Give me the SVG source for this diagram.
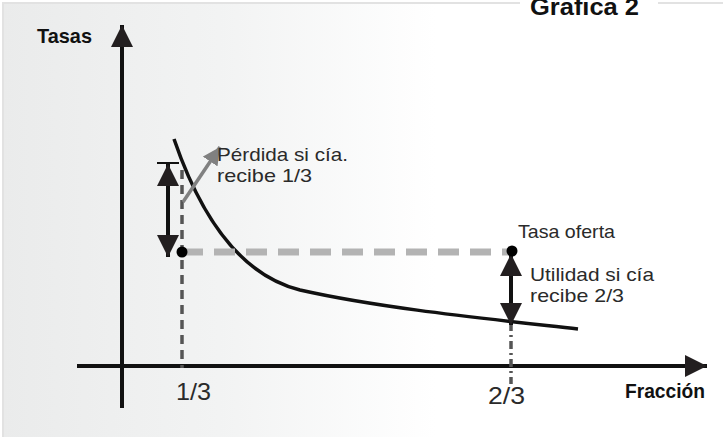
<svg xmlns="http://www.w3.org/2000/svg" width="723" height="439" viewBox="0 0 723 439">
<defs>
<linearGradient id="bg" x1="0" y1="0" x2="1" y2="0">
<stop offset="0" stop-color="#eaebeb"/>
<stop offset="0.3" stop-color="#f2f3f3"/>
<stop offset="0.6" stop-color="#ffffff"/>
</linearGradient>
<marker id="ahB" viewBox="0 0 10 10" refX="10" refY="5" markerWidth="5.5" markerHeight="5.5" orient="auto" markerUnits="strokeWidth">
<path d="M0,0 L10,5 L0,10 Z" fill="#231f20"/>
</marker>
<marker id="ahG" viewBox="0 0 10 10" refX="10" refY="5" markerWidth="5" markerHeight="5" orient="auto" markerUnits="strokeWidth">
<path d="M0,0 L10,5 L0,10 Z" fill="#808080"/>
</marker>
</defs>
<style>
.lbl{font-family:"Liberation Sans",Arial,sans-serif;font-size:19px;fill:#2a2a2a}
.bold{font-family:"Liberation Sans",Arial,sans-serif;font-weight:bold;fill:#111}
.frac{font-family:"Liberation Sans",Arial,sans-serif;font-size:24px;fill:#2a2a2a}
.axis{stroke:#111;stroke-width:4;fill:none}
.dbl{stroke:#111;stroke-width:4;fill:none}
</style>
<rect x="3" y="3" width="721" height="434" fill="url(#bg)"/>
<path d="M3,437 L3,3 L520,3 M658,3 L723,3" fill="none" stroke="#e2e2e2" stroke-width="2"/>
<text class="bold" x="530" y="15" font-size="23" textLength="109" lengthAdjust="spacingAndGlyphs">Grafica 2</text>

<g id="connectors">
<line class="axis" x1="122" y1="408" x2="122" y2="25" marker-end="url(#ahB)"/>
<line class="axis" x1="77" y1="366" x2="707" y2="366" marker-end="url(#ahB)"/>
<path d="M174,139 C200,215 240,275 300,290 C380,308 480,318 578,329" fill="none" stroke="#111" stroke-width="3.5"/>
<line x1="182" y1="170" x2="182" y2="368" stroke="#555" stroke-width="3.5" stroke-dasharray="9 6"/>
<line x1="182" y1="252" x2="511" y2="252" stroke="#b3b3b3" stroke-width="7" stroke-dasharray="21 11"/>
<line x1="511" y1="323" x2="511" y2="384" stroke="#555" stroke-width="3.5" stroke-dasharray="8 4 2 4"/>
<line x1="157" y1="163" x2="179" y2="163" stroke="#111" stroke-width="2"/>
<line class="dbl" x1="168" y1="210" x2="168" y2="164" marker-end="url(#ahB)"/>
<line class="dbl" x1="168" y1="210" x2="168" y2="257" marker-end="url(#ahB)"/>
<line class="dbl" x1="511" y1="290" x2="511" y2="254" marker-end="url(#ahB)"/>
<line class="dbl" x1="511" y1="290" x2="511" y2="325" marker-end="url(#ahB)"/>
<line x1="183" y1="202" x2="220" y2="147" stroke="#808080" stroke-width="3.5" marker-end="url(#ahG)"/>
</g>

<g id="dot-1-3"><circle cx="182" cy="252" r="5.5" fill="#000"/></g>
<g id="dot-oferta"><circle cx="512" cy="251" r="5.5" fill="#000"/></g>

<g id="label-tasas"><text class="bold" x="37" y="43" font-size="21" textLength="55" lengthAdjust="spacingAndGlyphs">Tasas</text></g>
<g id="label-fraccion"><text class="bold" x="625" y="398" font-size="20" textLength="80" lengthAdjust="spacingAndGlyphs">Fracción</text></g>
<g id="label-perdida">
<text class="lbl" x="217" y="161" textLength="131" lengthAdjust="spacingAndGlyphs">Pérdida si cía.</text>
<text class="lbl" x="217" y="182" textLength="95" lengthAdjust="spacingAndGlyphs">recibe 1/3</text>
</g>
<g id="label-oferta"><text class="lbl" x="518" y="238" textLength="97" lengthAdjust="spacingAndGlyphs">Tasa oferta</text></g>
<g id="label-utilidad">
<text class="lbl" x="530" y="281" textLength="124" lengthAdjust="spacingAndGlyphs">Utilidad si cía</text>
<text class="lbl" x="530" y="302" textLength="94" lengthAdjust="spacingAndGlyphs">recibe 2/3</text>
</g>
<g id="tick-1-3"><text class="frac" x="176" y="400" textLength="35" lengthAdjust="spacingAndGlyphs">1/3</text></g>
<g id="tick-2-3"><text class="frac" x="488" y="404" textLength="37" lengthAdjust="spacingAndGlyphs">2/3</text></g>
</svg>
